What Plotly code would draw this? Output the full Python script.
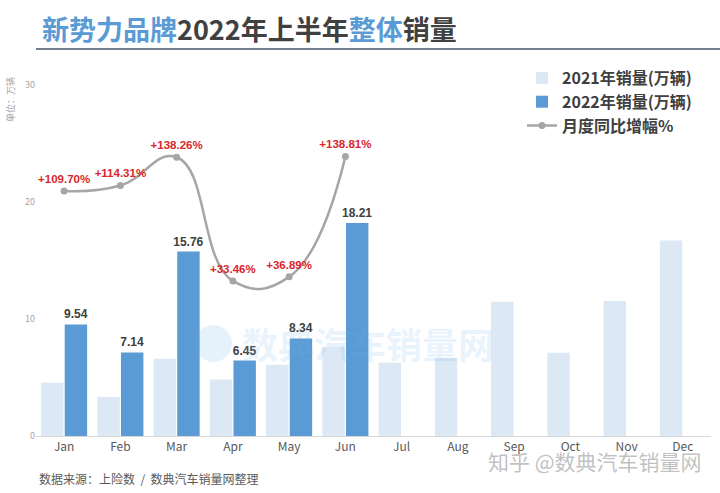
import plotly.graph_objects as go

months = ["Jan", "Feb", "Mar", "Apr", "May", "Jun", "Jul", "Aug", "Sep", "Oct", "Nov", "Dec"]
sales_2021 = [4.55, 3.33, 6.61, 4.83, 6.09, 7.63, 6.26, 6.66, 11.48, 7.12, 11.54, 16.70]
sales_2022 = [9.54, 7.14, 15.76, 6.45, 8.34, 18.21]
yoy_pct = [109.70, 114.31, 138.26, 33.46, 36.89, 138.81]
yoy_labels = ["+%.2f%%" % v for v in yoy_pct]
y_ticks = [0, 10, 20, 30]

W, H = 720, 493
L, R, T, B = 36, 9, 85, 57


def px(x):
    return (x - L) / (W - L - R)


def py(y):
    return (H - B - y) / (H - T - B)


CJK = "Noto Sans CJK SC"
ARIAL = "Liberation Sans"

fig = go.Figure()
fig.add_trace(go.Bar(
    x=months, y=sales_2021, name="2021年销量(万辆)",
    marker=dict(color="#dde8f5", line=dict(width=0)),
))
fig.add_trace(go.Bar(
    x=months[:6], y=sales_2022, name="2022年销量(万辆)",
    marker=dict(color="#5b9bd5", line=dict(width=0)),
    text=["%.2f" % v for v in sales_2022], textposition="outside",
    constraintext="none",
    textfont=dict(family=ARIAL, size=12, color="#404040", weight="bold"),
    cliponaxis=False,
))
fig.add_trace(go.Scatter(
    x=months[:6], y=yoy_pct, name="月度同比增幅%", yaxis="y2",
    mode="lines+markers+text",
    line=dict(color="#a6a6a6", width=2.5, shape="spline", smoothing=1.3),
    marker=dict(color="#a6a6a6", size=7),
    text=yoy_labels, textposition="top center",
    textfont=dict(family=ARIAL, size=11.5, color="#d9262c", weight="bold"),
    cliponaxis=False,
))

fig.update_layout(
    width=W, height=H, autosize=False,
    margin=dict(l=L, r=R, t=T, b=B, autoexpand=False),
    paper_bgcolor="white", plot_bgcolor="white",
    barmode="group", bargap=0.16, bargroupgap=0.05,
    font=dict(family=CJK, color="#595959"),
    xaxis=dict(
        range=[-0.5, 11.5],
        showline=True, linecolor="#d9d9d9", linewidth=1, ticks="",
        tickfont=dict(family=CJK, size=12, color="#595959"),
        showgrid=False,
    ),
    yaxis=dict(
        range=[0, 30], tickvals=y_ticks, showgrid=False, zeroline=False,
        tickfont=dict(family=CJK, size=9, color="#a6a6a6"),
        ticks="", showline=False,
    ),
    yaxis2=dict(
        overlaying="y", range=[-98, 199.5], visible=False, showgrid=False,
    ),
    legend=dict(
        x=px(522), y=py(61),
        xanchor="left", yanchor="top", traceorder="normal",
        font=dict(family=CJK, size=16, color="#404040", weight="bold"),
        bgcolor="rgba(0,0,0,0)", itemwidth=30,
    ),
    showlegend=True,
)

annotations = [
    dict(text='<b><span style="color:#5b9bd5">新势力品牌</span>2022年上半年'
              '<span style="color:#5b9bd5">整体</span>销量</b>',
         x=px(40), y=py(29), xanchor="left", yanchor="middle",
         font=dict(family=CJK, size=27, color="#404040")),
    dict(text="单位：万辆", x=px(11), y=py(100), textangle=-90,
         xanchor="center", yanchor="middle",
         font=dict(family=CJK, size=9, color="#a6a6a6")),
    dict(text="数据来源：上险数  /  数典汽车销量网整理", x=px(37), y=py(478),
         xanchor="left", yanchor="middle",
         font=dict(family=CJK, size=12, color="#595959")),
    dict(text="数典汽车销量网", x=px(240), y=py(343), xanchor="left", yanchor="middle",
         font=dict(family=CJK, size=36, color="rgba(110,180,235,0.16)", weight="bold")),
    dict(text="知乎 @数典汽车销量网", x=px(486), y=py(461), xanchor="left", yanchor="middle",
         font=dict(family=CJK, size=21, color="rgba(140,140,140,0.55)")),
]
for a in annotations:
    a.update(xref="paper", yref="paper", showarrow=False)
fig.update_layout(annotations=annotations)

fig.add_shape(type="line", xref="paper", yref="paper",
              x0=px(36), x1=px(720), y0=py(49), y1=py(49),
              line=dict(color="#44546a", width=1.5))
fig.add_shape(type="circle", xref="paper", yref="paper",
              x0=px(195), x1=px(232), y0=py(362), y1=py(325),
              line=dict(width=0), fillcolor="rgba(110,180,235,0.18)")

fig.write_html("out.html")
